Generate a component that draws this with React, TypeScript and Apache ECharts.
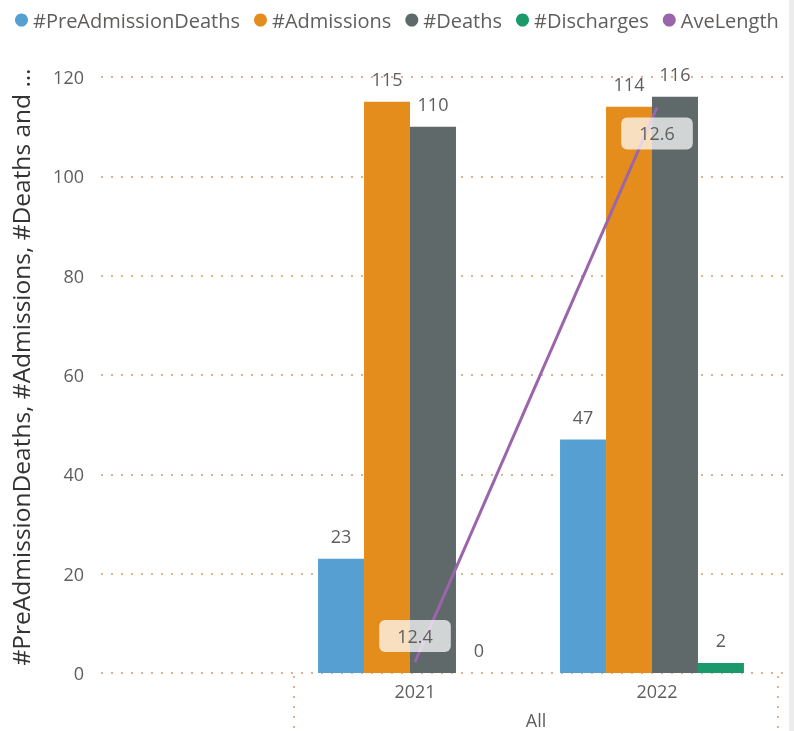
import React, { useEffect, useRef } from "react";
import * as echarts from "echarts";

const years = ["2021", "2022"];
const preAdmissionDeaths = [23, 47];
const admissions = [115, 114];
const deaths = [110, 116];
const discharges = [0, 2];
const aveLength = [12.4, 12.6];
const yTicks = { min: 0, max: 120, interval: 20 };
const seriesNames = ["#PreAdmissionDeaths", "#Admissions", "#Deaths", "#Discharges", "AveLength"];
const colors = ["#569fd3", "#e48d1c", "#5f696a", "#1a9a6a", "#9a65aa"];

const FONT = "'Open Sans', 'Noto Sans', sans-serif";
const TXT = "#605e5c";
const DOT = "#ddb48c";

export default function App() {
  const ref = useRef<HTMLDivElement>(null);
  useEffect(() => {
    if (!ref.current) return;
    const chart = echarts.init(ref.current, undefined, { renderer: "svg" });
    const barLabel = {
      show: true,
      position: "top" as const,
      distance: 14,
      color: TXT,
      fontSize: 18,
      fontFamily: FONT,
    };
    const barSeries = [preAdmissionDeaths, admissions, deaths, discharges].map((d, i) => ({
      name: seriesNames[i],
      type: "bar",
      xAxisIndex: 1,
      yAxisIndex: 1,
      data: d,
      barGap: "0%",
      barCategoryGap: "24%",
      itemStyle: { color: colors[i] },
      label: barLabel,
    }));
    const linePos = ["top", "bottom"];
    chart.setOption({
      animation: false,
      color: colors,
      textStyle: { fontFamily: FONT },
      legend: {
        left: 10,
        top: 5,
        width: 784,
        icon: "circle",
        itemWidth: 13,
        itemHeight: 13,
        itemGap: 14,
        textStyle: { fontSize: 20, color: TXT, fontFamily: FONT },
        data: seriesNames,
      },
      grid: [
        { left: 100, right: 6, top: 77, bottom: 58 },
        { left: 289, right: 21, top: 77, bottom: 58 },
        { left: 294, right: 16, top: 77, bottom: 58 },
      ],
      xAxis: [
        { gridIndex: 0, type: "value", show: false, min: 0, max: 1 },
        { gridIndex: 1, type: "category", data: years, show: false },
        {
          gridIndex: 2,
          type: "category",
          data: years,
          axisLine: { show: false },
          axisTick: { show: false },
          axisLabel: { color: TXT, fontSize: 18, fontFamily: FONT, margin: 9 },
        },
      ],
      yAxis: [
        {
          gridIndex: 0,
          type: "value",
          min: yTicks.min,
          max: yTicks.max,
          interval: yTicks.interval,
          name: "#PreAdmissionDeaths, #Admissions, #Deaths and …",
          nameLocation: "middle",
          nameGap: 68,
          nameTextStyle: { fontSize: 24.5, color: "#333", fontFamily: FONT, padding: [0, 0, 0, 16] },
          axisLine: { show: false },
          axisTick: { show: false },
          axisLabel: { color: TXT, fontSize: 18, fontFamily: FONT, margin: 17 },
          splitLine: { lineStyle: { color: DOT, type: [2, 8], width: 2 } },
        },
        { gridIndex: 1, type: "value", show: false, min: yTicks.min, max: yTicks.max },
        { gridIndex: 2, type: "value", show: false, min: 12.396, max: 12.611 },
      ],
      series: [
        ...barSeries,
        {
          name: seriesNames[4],
          type: "line",
          xAxisIndex: 2,
          yAxisIndex: 2,
          symbol: "circle",
          symbolSize: 0,
          showSymbol: true,
          itemStyle: { color: colors[4] },
          lineStyle: { color: colors[4], width: 3 },
          data: aveLength.map((v, i) => ({
            value: v,
            label: { position: linePos[i] },
          })),
          label: {
            show: true,
            distance: 10,
            color: TXT,
            fontSize: 18,
            fontFamily: FONT,
            backgroundColor: "rgba(255,255,255,0.72)",
            borderRadius: 6,
            padding: [5, 18],
            lineHeight: 22,
          },
          z: 5,
        },
      ],
      graphic: [
        { type: "rect", shape: { x: 789, y: 0, width: 5, height: 731 }, style: { fill: "#ececec" }, silent: true },
        { type: "line", shape: { x1: 294, y1: 676, x2: 294, y2: 731 }, style: { stroke: DOT, lineWidth: 2, lineDash: [2, 8] } },
        { type: "line", shape: { x1: 778, y1: 676, x2: 778, y2: 731 }, style: { stroke: DOT, lineWidth: 2, lineDash: [2, 8] } },
        {
          type: "text",
          x: 536,
          y: 720,
          style: { text: "All", fill: TXT, fontSize: 18, fontFamily: FONT, align: "center", verticalAlign: "middle" },
        },
      ],
    });
    return () => chart.dispose();
  }, []);
  return <div ref={ref} style={{ position: "fixed", left: 0, top: 0, width: 794, height: 731 }} />;
}
